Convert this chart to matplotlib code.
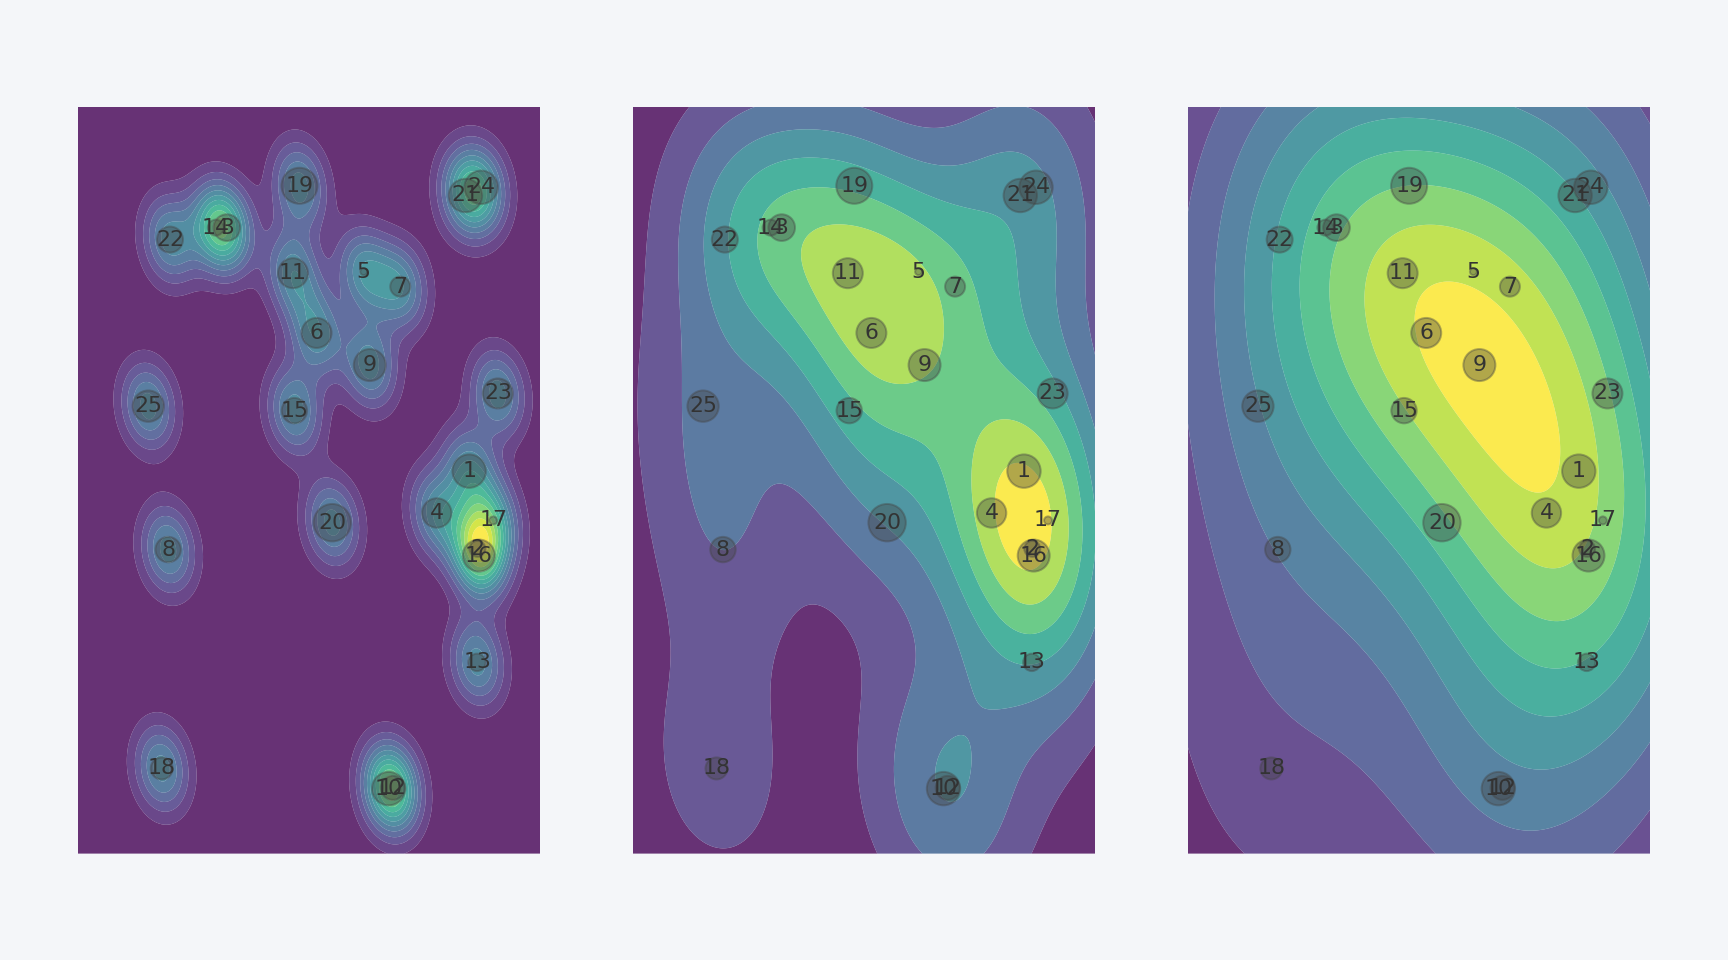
import matplotlib
matplotlib.use("Agg")
import matplotlib.pyplot as plt
import numpy as np

# point positions, as axes fractions
labels = list(range(1, 26))
x = [.846, .864, .322, .776, .618, .516, .697, .195, .631, .672, .465, .681, .863,
     .298, .468, .867, .898, .181, .479, .550, .838, .199, .908, .872, .152]
y = [.512, .408, .838, .456, .779, .697, .759, .407, .654, .087, .777, .088, .256,
     .838, .593, .399, .446, .114, .894, .443, .881, .822, .616, .892, .599]
sizes = [279, 64, 177, 216, 12, 225, 100, 161, 256, 279, 225, 144, 76,
         64, 161, 256, 16, 121, 324, 350, 279, 169, 225, 279, 246]
bandwidths = [0.16, 0.485, 0.8]
n_bands = [14, 8, 10]
headroom = [1.0, 1.045, 1.05]

bg = "#f4f6f9"


def kde(px, py, bw, gx, gy):
    # same thing as scipy's gaussian_kde with a scalar bw_method
    data = np.vstack([px, py])
    inv = np.linalg.inv(np.cov(data) * bw ** 2)
    dx = gx[..., None] - data[0]
    dy = gy[..., None] - data[1]
    q = inv[0, 0] * dx ** 2 + 2 * inv[0, 1] * dx * dy + inv[1, 1] * dy ** 2
    return np.exp(-0.5 * q).sum(axis=-1)


fig, axes = plt.subplots(1, 3, figsize=(12, 6.6667), dpi=144, facecolor=bg)
fig.subplots_adjust(left=78 / 1728, right=1650 / 1728, top=1 - 106.6 / 960,
                    bottom=1 - 853.6 / 960, wspace=0.2)

gx, gy = np.meshgrid(np.linspace(0, 1, 300), np.linspace(0, 1, 300))

for ax, bw, n, head in zip(axes, bandwidths, n_bands, headroom):
    z = kde(x, y, bw, gx, gy)
    levels = np.linspace(0, z.max() * head, n + 1)
    step = levels[1]
    # band colours run over the full colormap, first band purple, last one yellow
    ax.contourf(gx, gy, z, levels=levels, cmap="viridis", alpha=0.8, antialiased=True,
                vmin=step / 2, vmax=levels[-1] - step / 2)
    ax.scatter(x, y, s=sizes, color="#444444", alpha=0.4)
    for lab, px, py in zip(labels, x, y):
        ax.text(px, py, str(lab), ha="center", va="center", fontsize=11, color="#333333")
    ax.set_xlim(0, 1)
    ax.set_ylim(0, 1)
    ax.axis("off")

fig.savefig("out.png", dpi=144, facecolor=bg)
